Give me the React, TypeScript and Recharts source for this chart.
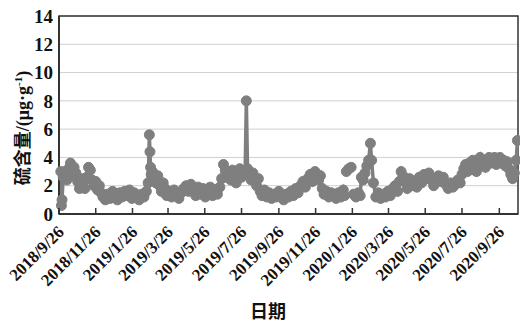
import React from 'react';
import { LineChart, Line, XAxis, YAxis, CartesianGrid, ReferenceArea, Label } from 'recharts';

// days counted from 2018/9/26
const sampleDay = [
  3, 4, 5, 7, 10, 13, 16, 19, 22, 25, 28, 31, 34, 37, 40, 43, 46, 49, 52, 55, 58, 61, 64, 67, 70, 73,
  77, 81, 85, 89, 93, 97, 101, 105, 109, 113, 117, 121, 125, 129, 133, 137, 141, 145, 148,
  150, 151, 152, 153, 155, 158, 161, 164, 167, 170, 173, 176, 179,
  183, 187, 191, 195, 199, 203, 207, 211, 215, 219, 223, 227, 231, 235, 239, 243, 247, 251, 255, 259, 263, 267,
  270, 273, 276, 279, 282, 285, 288, 291, 294, 297, 300, 303, 306, 309, 311, 313, 316, 319, 322, 325, 328, 331, 334,
  337, 341, 345, 349, 353, 357, 361, 365, 369, 373, 377, 381, 385, 389, 393, 397,
  401, 405, 409, 413, 417, 421, 425, 428, 431, 434, 437, 440, 444, 448, 452, 456, 460, 464, 468, 472, 474,
  475, 477, 481, 485, 487,
  489, 493, 497, 500, 502, 505, 508, 511, 514, 517, 519, 522, 526,
  530, 534, 538, 542, 546, 550, 554, 558, 562, 565, 568, 571, 574, 578, 582, 586, 590, 594, 598, 602,
  606, 610, 614, 618, 622, 626, 630, 634, 638, 642, 646, 650, 654, 658, 662, 666,
  669, 672, 675, 678, 681, 684, 687, 690, 693, 696, 699, 702, 705, 708, 711, 714, 717, 720, 723, 726,
  729, 732, 735, 738, 741, 744, 747, 750, 753, 756, 759, 761,
];

const sulfur: (number | null)[] = [
  3.0, 0.6, 1.0, 2.6, 3.0, 2.4, 3.2, 3.6, 2.7, 3.3, 2.9, 2.3, 1.8, 2.5, 2.2, 1.8, 2.6, 3.3, 3.1, 2.4, 2.0, 2.3, 1.7, 2.0, 1.5, 1.2,
  1.0, 1.4, 1.1, 1.6, 1.3, 1.0, 1.5, 1.2, 1.6, 1.3, 1.7, 1.1, 1.5, 1.3, 1.0, 1.4, 1.2, 1.6, 2.2,
  5.6, 4.4, 3.3, 2.8, 3.0, 2.6, 2.2, 2.7, 2.0, 1.6, 2.2, 1.8, 1.3,
  1.6, 1.2, 1.7, 1.4, 1.1, 1.5, 1.8, 2.0, 1.6, 2.1, 1.7, 1.3, 1.9, 1.4, 1.8, 1.2, 1.6, 1.9, 1.3, 1.7, 1.4, 1.9,
  2.5, 3.5, 3.1, 2.6, 2.9, 2.4, 3.1, 2.8, 2.2, 2.7, 3.2, 2.6, 3.0, 3.0, 8.0, 3.2, 2.8, 2.4, 2.9, 2.5, 2.0, 2.5, 1.6,
  1.3, 1.7, 1.2, 1.5, 1.1, 1.4, 1.2, 1.6, 1.3, 1.0, 1.4, 1.2, 1.6, 1.3, 1.8, 1.5,
  2.0, 2.3, 1.9, 2.5, 2.8, 2.3, 3.0, 2.8, 2.4, 2.7, 1.8, 1.4, 1.6, 1.2, 1.5, 1.3, 1.1, 1.5, 1.2, 1.7, 1.3,
  null, 3.0, 3.2, 3.3, null,
  1.4, 1.2, 1.5, 1.3, 2.6, 2.4, 2.9, 3.4, 3.8, 5.0, 3.8, 2.2, 1.2,
  1.5, 1.1, 1.4, 1.2, 1.6, 1.3, 1.8, 2.0, 1.6, 2.3, 3.0, 2.7, 2.3, 1.8, 2.5, 2.0, 2.3, 1.9, 2.6, 2.2,
  2.8, 2.5, 2.9, 2.4, 2.0, 2.5, 2.7, 2.3, 2.6, 2.1, 1.8, 2.2, 1.9, 2.1, 2.4, 2.2,
  2.8, 3.2, 3.5, 3.0, 3.6, 3.2, 3.8, 3.3, 3.0, 3.6, 4.0, 3.5, 3.8, 3.3, 3.7, 4.0, 3.6, 3.9, 4.0, 3.5,
  3.8, 4.0, 3.6, 3.8, 3.4, 3.7, 3.2, 2.8, 2.5, 2.9, 3.8, 5.2,
];

const tickLabels = [
  '2018/9/26', '2018/11/26', '2019/1/26', '2019/3/26', '2019/5/26', '2019/7/26', '2019/9/26',
  '2019/11/26', '2020/1/26', '2020/3/26', '2020/5/26', '2020/7/26', '2020/9/26',
];
const yTicks = [0, 2, 4, 6, 8, 10, 12, 14];

const start = new Date(2018, 8, 26).getTime();
const toDay = (s: string) => {
  const [y, m, d] = s.split('/').map(Number);
  return Math.round((new Date(y, m - 1, d).getTime() - start) / 86400000);
};
const xTicks = tickLabels.map(toDay);
const data = sampleDay.map((day, i) => ({ day, sulfur: sulfur[i] }));

const FONT = "'Liberation Serif', 'Times New Roman', 'Noto Sans CJK SC', serif";
const GREY = '#7f7f7f';

const DateTick = (props: any) => {
  const { x, y, payload } = props;
  const label = tickLabels[xTicks.indexOf(payload.value)];
  const tx = x + 6;
  const ty = y + 19;
  return (
    <g>
      <line x1={x} y1={y} x2={x} y2={y - 6} stroke="#333" strokeWidth={1.5} />
      <text
        x={tx}
        y={ty}
        transform={`rotate(-45, ${tx}, ${ty})`}
        textAnchor="end"
        fontFamily={FONT}
        fontWeight="bold"
        fontSize={17}
        fill="#111"
      >
        {label}
      </text>
    </g>
  );
};

export default function App() {
  return (
    <div style={{ position: 'absolute', left: 0, top: 0, width: 520, height: 322, background: '#fff' }}>
      <LineChart width={520} height={322} data={data} margin={{ top: 16, right: 2, left: 0, bottom: 0 }}>
        <CartesianGrid vertical={false} stroke="#d0d0d0" />
        <XAxis
          dataKey="day"
          type="number"
          domain={[0, 762]}
          ticks={xTicks}
          interval={0}
          height={108}
          tickSize={0}
          tickMargin={0}
          tickLine={false}
          axisLine={{ stroke: '#333', strokeWidth: 2 }}
          tick={<DateTick />}
        >
          <Label
            content={() => (
              <text x={268} y={318} textAnchor="middle" fontFamily={FONT} fontWeight="bold" fontSize={18} fill="#111">
                日期
              </text>
            )}
          />
        </XAxis>
        <YAxis
          type="number"
          domain={[0, 14]}
          ticks={yTicks}
          width={59}
          tickSize={0}
          tickMargin={6}
          tickLine={false}
          axisLine={{ stroke: '#333', strokeWidth: 2 }}
          tick={{ fontFamily: FONT, fontWeight: 'bold', fontSize: 19, fill: '#111' }}
        >
          <Label
            content={() => (
              <text
                x={29}
                y={128}
                transform="rotate(-90, 29, 128)"
                textAnchor="middle"
                fontFamily={FONT}
                fontWeight="bold"
                fontSize={18}
                fill="#111"
              >
                硫含量/(μg·g
                <tspan dy={-7} fontSize={11}>-1</tspan>
                <tspan dy={7}>)</tspan>
              </text>
            )}
          />
        </YAxis>
        <ReferenceArea x1={0} x2={762} y1={0} y2={14} fill="none" stroke="#333" strokeWidth={1.5} />
        <Line
          type="linear"
          dataKey="sulfur"
          stroke={GREY}
          strokeWidth={3.5}
          dot={{ r: 5, fill: GREY, stroke: GREY, strokeWidth: 1 }}
          isAnimationActive={false}
          connectNulls={false}
        />
      </LineChart>
    </div>
  );
}
